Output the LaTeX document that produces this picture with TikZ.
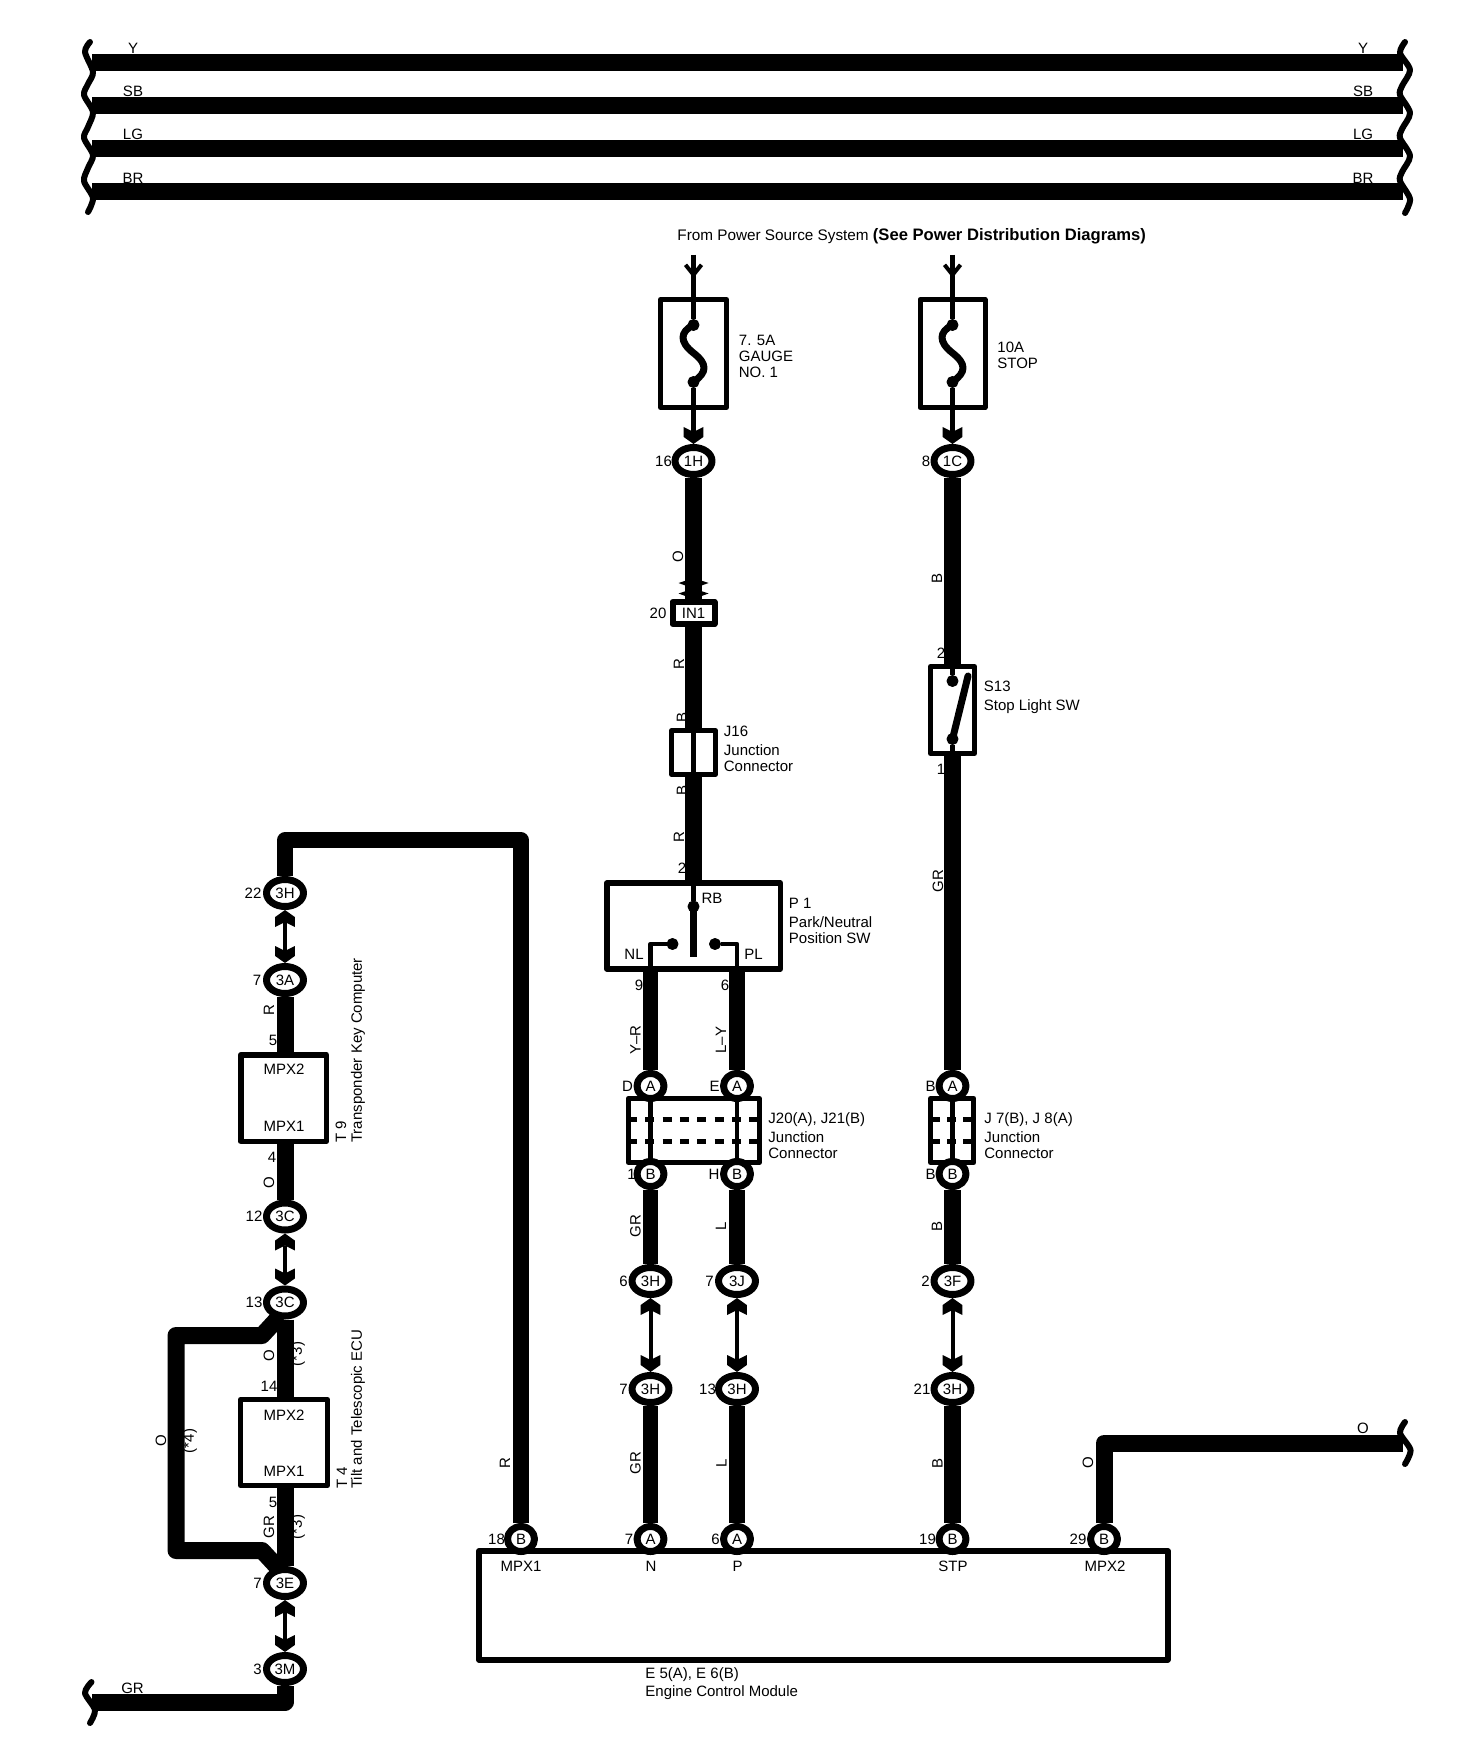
\documentclass[tikz,border=0pt]{standalone}
\usepackage{fontspec}
\setmainfont{Liberation Sans}
\usetikzlibrary{shapes.geometric,arrows.meta}

% notched head on the connector leads
\pgfdeclarearrow{
  name = Chev,
  setup code = {
    \pgfarrowssettipend{0pt}
    \pgfarrowssetlineend{-6pt}
    \pgfarrowssetbackend{-8.5pt}
    \pgfarrowssetvisualbackend{-6pt}
    \pgfarrowshullpoint{0pt}{0pt}
    \pgfarrowshullpoint{-8.5pt}{4.9pt}
    \pgfarrowshullpoint{-8.5pt}{-4.9pt}
  },
  drawing code = {
    \pgfpathmoveto{\pgfqpoint{0pt}{0pt}}
    \pgfpathlineto{\pgfqpoint{-3.5pt}{4.9pt}}
    \pgfpathlineto{\pgfqpoint{-8.5pt}{4.9pt}}
    \pgfpathlineto{\pgfqpoint{-6pt}{0pt}}
    \pgfpathlineto{\pgfqpoint{-8.5pt}{-4.9pt}}
    \pgfpathlineto{\pgfqpoint{-3.5pt}{-4.9pt}}
    \pgfpathclose
    \pgfusepathqfill
  }
}

\begin{document}
\begin{tikzpicture}[x=0.5pt, y=-0.5pt, line join=round,
  >=Chev,
  lbl/.style = {inner sep=0, font=\fontsize{7.5}{8}\selectfont},
  side/.style = {lbl, anchor=west, align=left},
  vlbl/.style = {lbl, rotate=90},
  conn/.style = {draw, fill=white, ellipse, inner sep=0, line width=3.5pt, minimum width=18.5pt, minimum height=13.5pt, font=\fontsize{7.5}{8}\selectfont},
  pinc/.style = {draw, fill=white, ellipse, inner sep=0, line width=3.5pt, minimum width=13.5pt, minimum height=12.5pt, font=\fontsize{7.5}{8}\selectfont},
  box/.style = {draw, line width=2.5pt, inner sep=0},
  dot/.style = {draw, fill=black, circle, inner sep=0, line width=0.5pt, minimum size=5.5pt},
  wire/.style = {line width=8.5pt},
  wirenar/.style = {line width=7.75pt},
  link/.style = {line width=2pt, <->},
  lead/.style = {line width=2.2pt},
  blade/.style = {line width=3.5pt, line cap=round},
  brk/.style = {line width=3pt, line cap=round},
  dots/.style = {line width=2.5pt, dash pattern=on 4.5pt off 4.15pt}]
\useasboundingbox (0,0) rectangle (1472,1764);

% bus lines along the top
\foreach \n/\t/\yy/\yl in {1/Y/63/48, 2/SB/105.5/91, 3/LG/148.5/134, 4/BR/192/178} {
  \coordinate (busl\n) at (92,\yy);
  \coordinate (busr\n) at (1403,\yy);
  \draw[wire] (busl\n) -- (busr\n);
  \node[lbl] (ltop\n) at (133,\yl) {\t};
  \node[lbl] (rtop\n) at (1363,\yl) {\t};
}
\draw[brk] plot[smooth] coordinates {(90,42) (85,52) (93,72) (88,84) (84,95) (93,112) (88,127) (84,138) (93,155) (88,168) (84,181) (93,198) (88,212)};
\draw[brk] plot[smooth] coordinates {(1405,42) (1400,53) (1410,70) (1402,86) (1400,95) (1410,113) (1402,129) (1400,138) (1410,156) (1402,172) (1400,181) (1410,199) (1405,213)};

% power source
\node[anchor=west, inner sep=0, font=\fontsize{7.65}{8}\selectfont] (source) at (677,236) {From Power Source System {\fontsize{8.3}{8}\selectfont\textbf{(See Power Distribution Diagrams)}}};

% fuses
\node[box, minimum width=33pt, minimum height=54pt] (fuse1) at (693.5,353.5) {};
\node[box, minimum width=32.5pt, minimum height=54pt] (fuse2) at (952.5,353.5) {};
\node[dot] (fa1) at (693.5,325) {};
\node[dot] (fb1) at (693.5,382) {};
\node[dot] (fa2) at (952.5,325) {};
\node[dot] (fb2) at (952.5,382) {};
\node[side] (fuselbl1) at (738.5,356) {7. 5A\\GAUGE\\NO. 1};
\node[side] (fuselbl2) at (997,355) {10A\\STOP};
\foreach \n/\xx in {1/693.5, 2/952.5} {
  \coordinate (top\n) at (\xx,255);
  \coordinate (tip\n) at (\xx,278);
  \draw[lead, -{Straight Barb[length=5pt,width=8pt,line width=2pt]}] (top\n) -- (tip\n);
  \draw[lead] (top\n) -- (fa\n);
  \draw[blade] (fa\n.center) .. controls (\xx-14,332) and (\xx-14,342) .. (\xx,353) .. controls (\xx+14,364) and (\xx+14,372) .. (fb\n.center);
}

% left column, centre
\node[conn] (c1H) at (693.5,461) {1H};
\node[lbl] (n16) at (663.5,461) {16};
\node[box, line width=3pt, minimum width=21pt, minimum height=11pt, font=\fontsize{7.5}{8}\selectfont] (in1) at (693.5,613) {IN1};
\node[lbl] (n20) at (658,613) {20};
\node[box, minimum width=21.75pt, minimum height=22pt] (j16) at (693.5,752.5) {};
\node[side] (j16lbl) at (723.5,749) {J16\\[1.5pt]Junction\\Connector};
\node[box, line width=2.75pt, minimum width=86.75pt, minimum height=43pt] (p1) at (693.5,926) {};
\node[side] (p1lbl) at (788.5,921) {P 1\\[1.5pt]Park/Neutral\\Position SW};
\node[dot] (rb) at (693.5,906.5) {};
\node[lbl] (rblbl) at (712,898) {RB};
\node[lbl] (nllbl) at (634,954) {NL};
\node[lbl] (pllbl) at (753.5,954) {PL};
\node[dot] (nlc) at (672.5,944) {};
\node[dot] (plc) at (715,944) {};
\coordinate (bladeend) at (693.5,957);
\draw[lead, ->] (fb1) -- (c1H);
\draw[wire, -{Kite[length=5.25pt,width=15pt,inset=2.5pt]Kite[length=5.25pt,width=15pt,inset=2.5pt]}] (c1H) -- (in1);
\draw[wire] (in1) -- (j16);
\draw[wire] (j16) -- (p1);
\draw[line width=2.25pt] (j16.north) -- (j16.south);
\draw[lead] (p1.north) -- (rb);
\draw[line width=3.5pt] (rb.center) -- (bladeend);

% wires below P 1
\node[pinc] (cD) at (650.5,1086) {A};
\node[pinc] (cE) at (737,1086) {A};
\node[pinc] (cI) at (650.5,1174) {B};
\node[pinc] (cH) at (737,1174) {B};
\node[lbl] (nD) at (627.5,1086) {D};
\node[lbl] (nE) at (714.5,1086) {E};
\node[lbl] (n1) at (631.5,1174) {1};
\node[lbl] (nH) at (714,1174) {H};
\node[box, minimum width=65.5pt, minimum height=32pt] (j20) at (693.8,1130.5) {};
\node[side] (j20lbl) at (768,1135.5) {J20(A), J21(B)\\[1.5pt]Junction\\Connector};
\draw[dots] (628,1119.3) -- (760,1119.3);
\draw[dots] (628,1141) -- (760,1141);
\draw[lead] (cD) -- (cI);
\draw[lead] (cE) -- (cH);
\draw[lead] (cD |- p1.south) |- (nlc);
\draw[lead] (cE |- p1.south) |- (plc);
\draw[wirenar] (cD.north) -- (cD |- p1.south);
\draw[wirenar] (cE.north) -- (cE |- p1.south);

\node[conn] (c6) at (650.5,1281) {3H};
\node[conn] (c7) at (737,1281) {3J};
\node[conn] (c6b) at (650.5,1389) {3H};
\node[conn] (c7b) at (737,1389) {3H};
\node[lbl] (n6) at (623.5,1281) {6};
\node[lbl] (n7) at (709.5,1281) {7};
\node[lbl] (n6b) at (623.5,1389) {7};
\node[lbl] (n7b) at (707.5,1389) {13};
\draw[wirenar] (cI) -- (c6);
\draw[wirenar] (cH) -- (c7);
\draw[link] (c6) -- (c6b);
\draw[link] (c7) -- (c7b);

% stop light column
\node[conn] (c1C) at (952.5,461) {1C};
\node[lbl] (n8) at (926,461) {8};
\node[box, minimum width=22pt, minimum height=43.5pt] (s13) at (952.5,710) {};
\node[side] (s13lbl) at (983.5,697) {S13\\[1.5pt]Stop Light SW};
\node[dot] (sa) at (952.5,681) {};
\node[dot] (sb) at (952.5,739) {};
\coordinate (sbl) at (968,676);
\node[pinc] (cB1) at (952.5,1086) {A};
\node[pinc] (cB2) at (952.5,1174) {B};
\node[lbl] (nB1) at (930.5,1086) {B};
\node[lbl] (nB2) at (930.5,1174) {B};
\node[box, minimum width=21.7pt, minimum height=32pt] (j7) at (952.2,1130.5) {};
\node[side] (j7lbl) at (984,1135.5) {J 7(B), J 8(A)\\[1.5pt]Junction\\Connector};
\draw[dots, dash pattern=on 4.5pt off 3.5pt] (931,1119.3) -- (975,1119.3);
\draw[dots, dash pattern=on 4.5pt off 3.5pt] (931,1141) -- (975,1141);
\node[conn] (c2) at (952.5,1281) {3F};
\node[conn] (c2b) at (952.5,1389) {3H};
\node[lbl] (n2) at (925.5,1281) {2};
\node[lbl] (n2b) at (922,1389) {21};
\draw[lead, ->] (fb2) -- (c1C);
\draw[wire] (c1C) -- (s13);
\draw[wire] (s13) -- (cB1);
\draw[lead] (s13.north) -- (sa);
\draw[lead] (sb) -- (s13.south);
\draw[blade] (sbl) -- (sb.center);
\draw[lead] (cB1) -- (cB2);
\draw[wire] (cB2) -- (c2);
\draw[link] (c2) -- (c2b);

% engine control module
\node[box, line width=3pt, minimum width=344.35pt, minimum height=54.35pt] (ecm) at (823.3,1605.3) {};
\node[pinc] (e18) at (521,1539) {B};
\node[pinc] (e7) at (650.5,1539) {A};
\node[pinc] (e6) at (737,1539) {A};
\node[pinc] (e19) at (952.5,1539) {B};
\node[pinc] (e29) at (1104,1539) {B};
\node[lbl] (n18) at (496.5,1539) {18};
\node[lbl] (n7e) at (629,1539) {7};
\node[lbl] (n6e) at (715.5,1539) {6};
\node[lbl] (n19) at (927.5,1539) {19};
\node[lbl] (n29) at (1078,1539) {29};
\node[lbl] (mpx1) at (521,1566) {MPX1};
\node[lbl] (pinn) at (651,1566) {N};
\node[lbl] (pinp) at (737.5,1566) {P};
\node[lbl] (stp) at (953,1566) {STP};
\node[lbl] (mpx2) at (1105,1566) {MPX2};
\node[side] (ecmlbl) at (645,1684) {E 5(A), E 6(B)\\[1pt]Engine Control Module};
\draw[wirenar] (c6b) -- (e7);
\draw[wirenar] (c7b) -- (e6);
\draw[wire] (c2b) -- (e19);
\coordinate (o1) at (1104,1443);
\coordinate (o2) at (1403,1443);
\draw[wire] (e29) -- (o1) -- (o2);
\draw[brk] plot[smooth] coordinates {(1405,1422) (1400,1433) (1410.5,1450) (1405,1464)};

% left side, key computer and ECU
\coordinate (cnr) at (285,840);
\coordinate (brt) at (262,1335.5);
\coordinate (brtl) at (176,1335.5);
\coordinate (brbl) at (176,1550.5);
\coordinate (brb) at (262,1550.5);
\coordinate (brj1) at (280,1316);
\coordinate (brj2) at (280,1570);
\draw[wire] (brj1) -- (brt) -- (brtl) -- (brbl) -- (brb) -- (brj2);
\node[conn] (k22) at (285,893) {3H};
\node[conn] (k7) at (285,980) {3A};
\node[lbl] (n22) at (253,893) {22};
\node[lbl] (nk7) at (257,980) {7};
\node[box, line width=2.75pt, minimum width=42.75pt, minimum height=43.25pt] (t9) at (283.5,1098) {};
\node[lbl] (t9a) at (284,1069) {MPX2};
\node[lbl] (t9b) at (284,1126.5) {MPX1};
\node[lbl, rotate=90, anchor=west] (t9n) at (341,1143) {T 9};
\node[lbl, rotate=90, anchor=west] (t9t) at (358,1143) {Transponder Key Computer};
\node[conn] (k12) at (285,1216.5) {3C};
\node[conn] (k13) at (285,1302.5) {3C};
\node[lbl] (n12) at (254,1216.5) {12};
\node[lbl] (n13) at (254,1302.5) {13};
\node[box, minimum width=43.5pt, minimum height=43pt] (t4) at (284,1442.5) {};
\node[lbl] (t4a) at (284,1415) {MPX2};
\node[lbl] (t4b) at (284,1471.5) {MPX1};
\node[lbl, rotate=90, anchor=west] (t4n) at (342,1489) {T 4};
\node[lbl, rotate=90, anchor=west] (t4t) at (358,1489) {Tilt and Telescopic ECU};
\node[conn] (k3E) at (285,1583) {3E};
\node[conn] (k3M) at (285,1669) {3M};
\node[lbl] (n3E) at (257.5,1583) {7};
\node[lbl] (n3M) at (257.5,1669) {3};
\coordinate (gr1) at (285,1702);
\coordinate (gr2) at (92,1702);
\draw[wirenar] (e18) -- (e18 |- cnr) -- (cnr) -- (k22);
\draw[link] (k22) -- (k7);
\draw[wire] (k7.south) -- (k7 |- t9.north);
\draw[wire] (k7 |- t9.south) -- (k12.north);
\draw[link] (k12) -- (k13);
\draw[wire] (k13.south) -- (k13 |- t4.north);
\draw[wire] (k13 |- t4.south) -- (k3E.north);
\draw[link] (k3E) -- (k3M);
\draw[wire] (k3M) -- (gr1) -- (gr2);
\draw[brk] plot[smooth] coordinates {(91.5,1682) (85,1693) (95,1710) (90,1723)};

% wire colours
\node[vlbl] (w1) at (678,557) {O};
\node[vlbl] (w2) at (937,578) {B};
\node[vlbl] (w3) at (679,664) {R};
\node[vlbl] (w4) at (682,717) {B};
\node[vlbl] (w5) at (682,790) {B};
\node[vlbl] (w6) at (679,837) {R};
\node[lbl] (w7) at (682,868) {2};
\node[lbl] (w8) at (941,653) {2};
\node[lbl] (w9) at (941,769) {1};
\node[vlbl] (w10) at (938,881) {GR};
\node[lbl] (w11) at (639,985) {9};
\node[lbl] (w12) at (725,985) {6};
\node[vlbl] (w13) at (635.5,1040) {Y--R};
\node[vlbl] (w14) at (721,1040) {L--Y};
\node[vlbl] (w15) at (635.5,1226) {GR};
\node[vlbl] (w16) at (721,1226) {L};
\node[vlbl] (w17) at (937,1226) {B};
\node[vlbl] (w18) at (505,1463) {R};
\node[vlbl] (w19) at (635.5,1463) {GR};
\node[vlbl] (w20) at (721.5,1463) {L};
\node[vlbl] (w21) at (937.5,1463) {B};
\node[vlbl] (w22) at (1088,1463) {O};
\node[lbl] (w23) at (1363,1428) {O};
\node[vlbl] (w24) at (269,1010) {R};
\node[lbl] (w25) at (273,1040) {5};
\node[lbl] (w26) at (272,1157) {4};
\node[vlbl] (w27) at (269,1183) {O};
\node[vlbl] (w28) at (269,1356) {O};
\node[vlbl] (w29) at (298,1354) {(*3)};
\node[lbl] (w30) at (269,1386) {14};
\node[vlbl] (w31) at (161,1441) {O};
\node[vlbl] (w32) at (190,1441) {(*4)};
\node[lbl] (w33) at (273,1502) {5};
\node[vlbl] (w34) at (269,1527) {GR};
\node[vlbl] (w35) at (298,1527) {(*3)};
\node[lbl] (w36) at (132.5,1688) {GR};
\end{tikzpicture}
\end{document}
